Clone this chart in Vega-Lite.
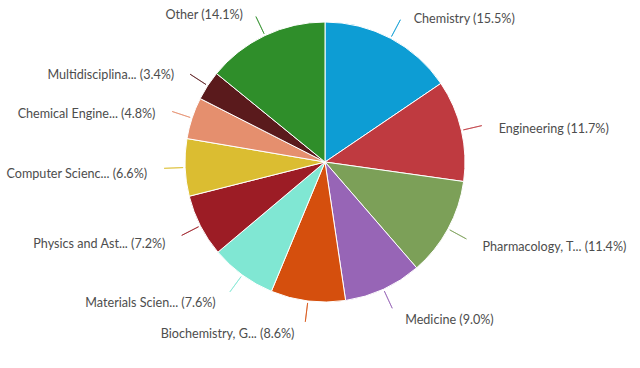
{
  "$schema": "https://vega.github.io/schema/vega-lite/v6.json",
  "width": 640,
  "height": 368,
  "autosize": {"type": "fit", "contains": "padding"},
  "padding": {"left": 10, "top": 0, "right": 0, "bottom": 44},
  "background": "white",
  "view": {"stroke": null},
  "data": {
    "values": [
      {"i": 1, "name": "Chemistry", "label": "Chemistry (15.5%)", "value": 15.5},
      {"i": 2, "name": "Engineering", "label": "Engineering (11.7%)", "value": 11.7},
      {"i": 3, "name": "Pharmacology", "label": "Pharmacology, T... (11.4%)", "value": 11.4},
      {"i": 4, "name": "Medicine", "label": "Medicine (9.0%)", "value": 9.0},
      {"i": 5, "name": "Biochemistry", "label": "Biochemistry, G... (8.6%)", "value": 8.6},
      {"i": 6, "name": "Materials Science", "label": "Materials Scien... (7.6%)", "value": 7.6},
      {"i": 7, "name": "Physics and Astronomy", "label": "Physics and Ast... (7.2%)", "value": 7.2},
      {"i": 8, "name": "Computer Science", "label": "Computer Scienc... (6.6%)", "value": 6.6},
      {"i": 9, "name": "Chemical Engineering", "label": "Chemical Engine... (4.8%)", "value": 4.8},
      {"i": 10, "name": "Multidisciplinary", "label": "Multidisciplina... (3.4%)", "value": 3.4},
      {"i": 11, "name": "Other", "label": "Other (14.1%)", "value": 14.1}
    ]
  },
  "encoding": {
    "theta": {"field": "value", "type": "quantitative", "stack": true},
    "order": {"field": "i", "type": "quantitative"},
    "color": {
      "field": "name",
      "type": "nominal",
      "legend": null,
      "scale": {
        "domain": ["Chemistry", "Engineering", "Pharmacology", "Medicine", "Biochemistry", "Materials Science", "Physics and Astronomy", "Computer Science", "Chemical Engineering", "Multidisciplinary", "Other"],
        "range": ["#0d9dd4", "#bf3a40", "#7ca058", "#9765b6", "#d54f0d", "#80e7d3", "#9c1c25", "#dbbd31", "#e58f6e", "#5a1a1c", "#2f8e2a"]
      }
    }
  },
  "layer": [
    {"mark": {"type": "arc", "radius": 140, "stroke": "white", "strokeWidth": 1}},
    {"mark": {"type": "arc", "radius": 161, "radius2": 142, "padAngle": 3, "filled": false, "strokeWidth": 1, "opacity": 0.7}},
    {
      "mark": {"type": "text", "radius": 168, "dx": 10, "dy": 5, "align": "left", "baseline": "middle", "font": "Lato", "fontSize": 12.6},
      "encoding": {
        "color": {"value": "#4d4d4d"},
        "text": {"condition": {"test": "datum.i <= 4", "field": "label", "type": "nominal"}, "value": ""}
      }
    },
    {
      "mark": {"type": "text", "radius": 168, "dx": -10, "dy": 5, "align": "right", "baseline": "middle", "font": "Lato", "fontSize": 12.6},
      "encoding": {
        "color": {"value": "#4d4d4d"},
        "text": {"condition": {"test": "datum.i > 4", "field": "label", "type": "nominal"}, "value": ""}
      }
    }
  ]
}
